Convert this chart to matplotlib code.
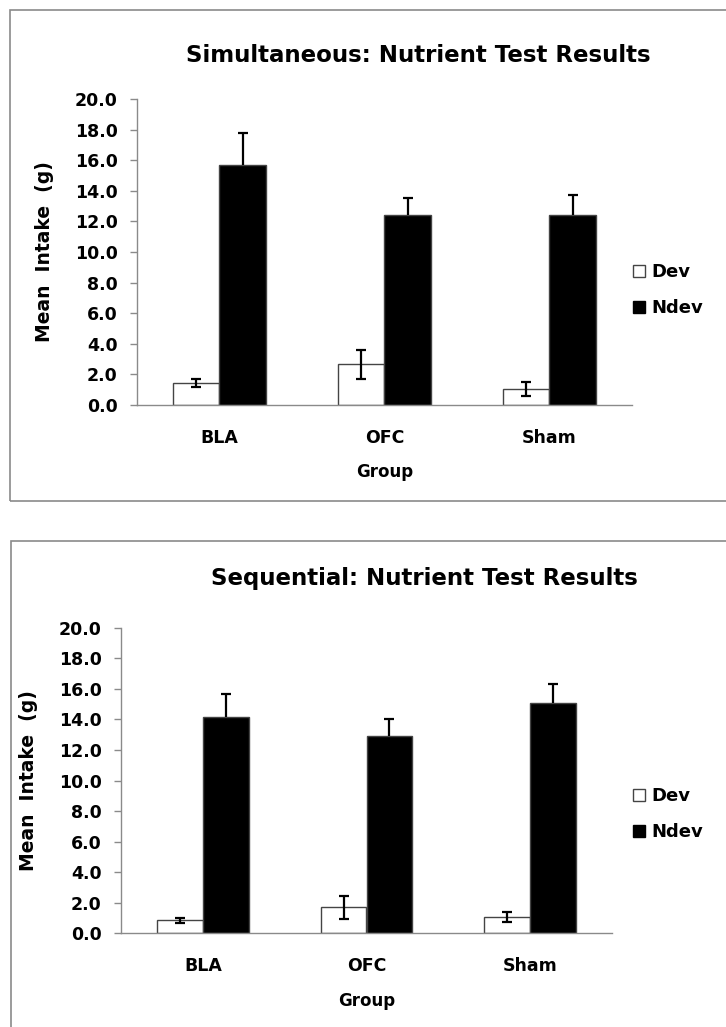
import matplotlib
matplotlib.use('Agg')
import matplotlib.pyplot as plt
from matplotlib.patches import Rectangle, Patch
import numpy as np

groups = ['BLA', 'OFC', 'Sham']
series = ['Dev', 'Ndev']

# Simultaneous test: means and error
sim_dev = [1.45, 2.65, 1.05]
sim_dev_err = [0.25, 0.92, 0.43]
sim_ndev = [15.7, 12.45, 12.45]
sim_ndev_err = [2.05, 1.1, 1.3]

# Sequential test: means and error
seq_dev = [0.85, 1.7, 1.05]
seq_dev_err = [0.18, 0.74, 0.32]
seq_ndev = [14.15, 12.9, 15.1]
seq_ndev_err = [1.5, 1.13, 1.2]

W, H = 726, 1027
plt.rcParams['font.family'] = ['DejaVu Sans']
plt.rcParams['font.weight'] = 'bold'
plt.rcParams['axes.labelweight'] = 'bold'
GRAY = '#8a8a8a'
ERR = dict(ecolor='black', elinewidth=1.6, capsize=3.5, capthick=1.6, fmt='none', zorder=3)


def fx(px):
    return px / W


def fy(py):
    return 1 - py / H


def panel(fig, rect, title, title_xy, dev, dev_err, ndev, ndev_err, legend_y):
    ax = fig.add_axes(rect)
    x = np.arange(len(groups))
    w = 0.28
    ax.bar(x - w / 2, dev, w, color='white', edgecolor='#444444', linewidth=1.0, zorder=2)
    ax.bar(x + w / 2, ndev, w, color='black', edgecolor='#444444', linewidth=1.0, zorder=2)
    ax.errorbar(x - w / 2, dev, yerr=dev_err, **ERR)
    # Ndev only shows the upper half of its error bar
    _, caps, _ = ax.errorbar(x + w / 2, ndev, yerr=[np.zeros(len(ndev)), ndev_err], **ERR)
    caps[0].set_visible(False)

    ax.set_xlim(-0.5, 2.5)
    ax.set_ylim(0, 20)
    ticks = np.arange(0, 20.1, 2)
    ax.set_yticks(ticks)
    ax.set_yticklabels([f'{v:.1f}' for v in ticks])
    ax.set_xticks(x)
    ax.set_xticklabels(groups)
    for s in ['top', 'right']:
        ax.spines[s].set_visible(False)
    for s in ['left', 'bottom']:
        ax.spines[s].set_color(GRAY)
        ax.spines[s].set_linewidth(1.0)
    ax.tick_params(axis='y', direction='out', length=5, width=1.0, color=GRAY,
                   pad=9, labelsize=12.5)
    ax.tick_params(axis='x', length=0, pad=17, labelsize=12.5)
    ax.set_xlabel('Group', fontsize=12, labelpad=12)
    ax.set_ylabel('Mean  Intake  (g)', fontsize=13.5, labelpad=15)
    fig.text(title_xy[0], title_xy[1], title, ha='center', va='center',
             fontsize=16.5, fontweight='bold')
    handles = [Patch(facecolor='white', edgecolor='#444444', linewidth=1.0),
               Patch(facecolor='black', edgecolor='black')]
    fig.legend(handles, series, loc='center left',
               bbox_to_anchor=(fx(617), legend_y), frameon=False,
               handlelength=0.65, handleheight=0.65, handletextpad=0.35,
               labelspacing=1.0, fontsize=13)
    return ax


fig = plt.figure(figsize=(W / 100, H / 100), dpi=100)

# outer chart frames
fig.add_artist(Rectangle((fx(10), fy(501)), 1.2, (501 - 10) / H,
                         transform=fig.transFigure, fill=False,
                         edgecolor=GRAY, linewidth=1.2))
fig.add_artist(Rectangle((fx(10.5), fy(1100)), 1.2, (1100 - 540.5) / H,
                         transform=fig.transFigure, fill=False,
                         edgecolor=GRAY, linewidth=1.2))

panel(fig, [fx(137), fy(405), fx(632 - 137), (405 - 99) / H],
      'Simultaneous: Nutrient Test Results', (fx(418), fy(55)),
      sim_dev, sim_dev_err, sim_ndev, sim_ndev_err, fy(290))
panel(fig, [fx(121), fy(933.3), fx(612 - 121), (933.3 - 627.7) / H],
      'Sequential: Nutrient Test Results', (fx(424), fy(578)),
      seq_dev, seq_dev_err, seq_ndev, seq_ndev_err, fy(814))

fig.savefig('out.png', dpi=100, facecolor='white')
